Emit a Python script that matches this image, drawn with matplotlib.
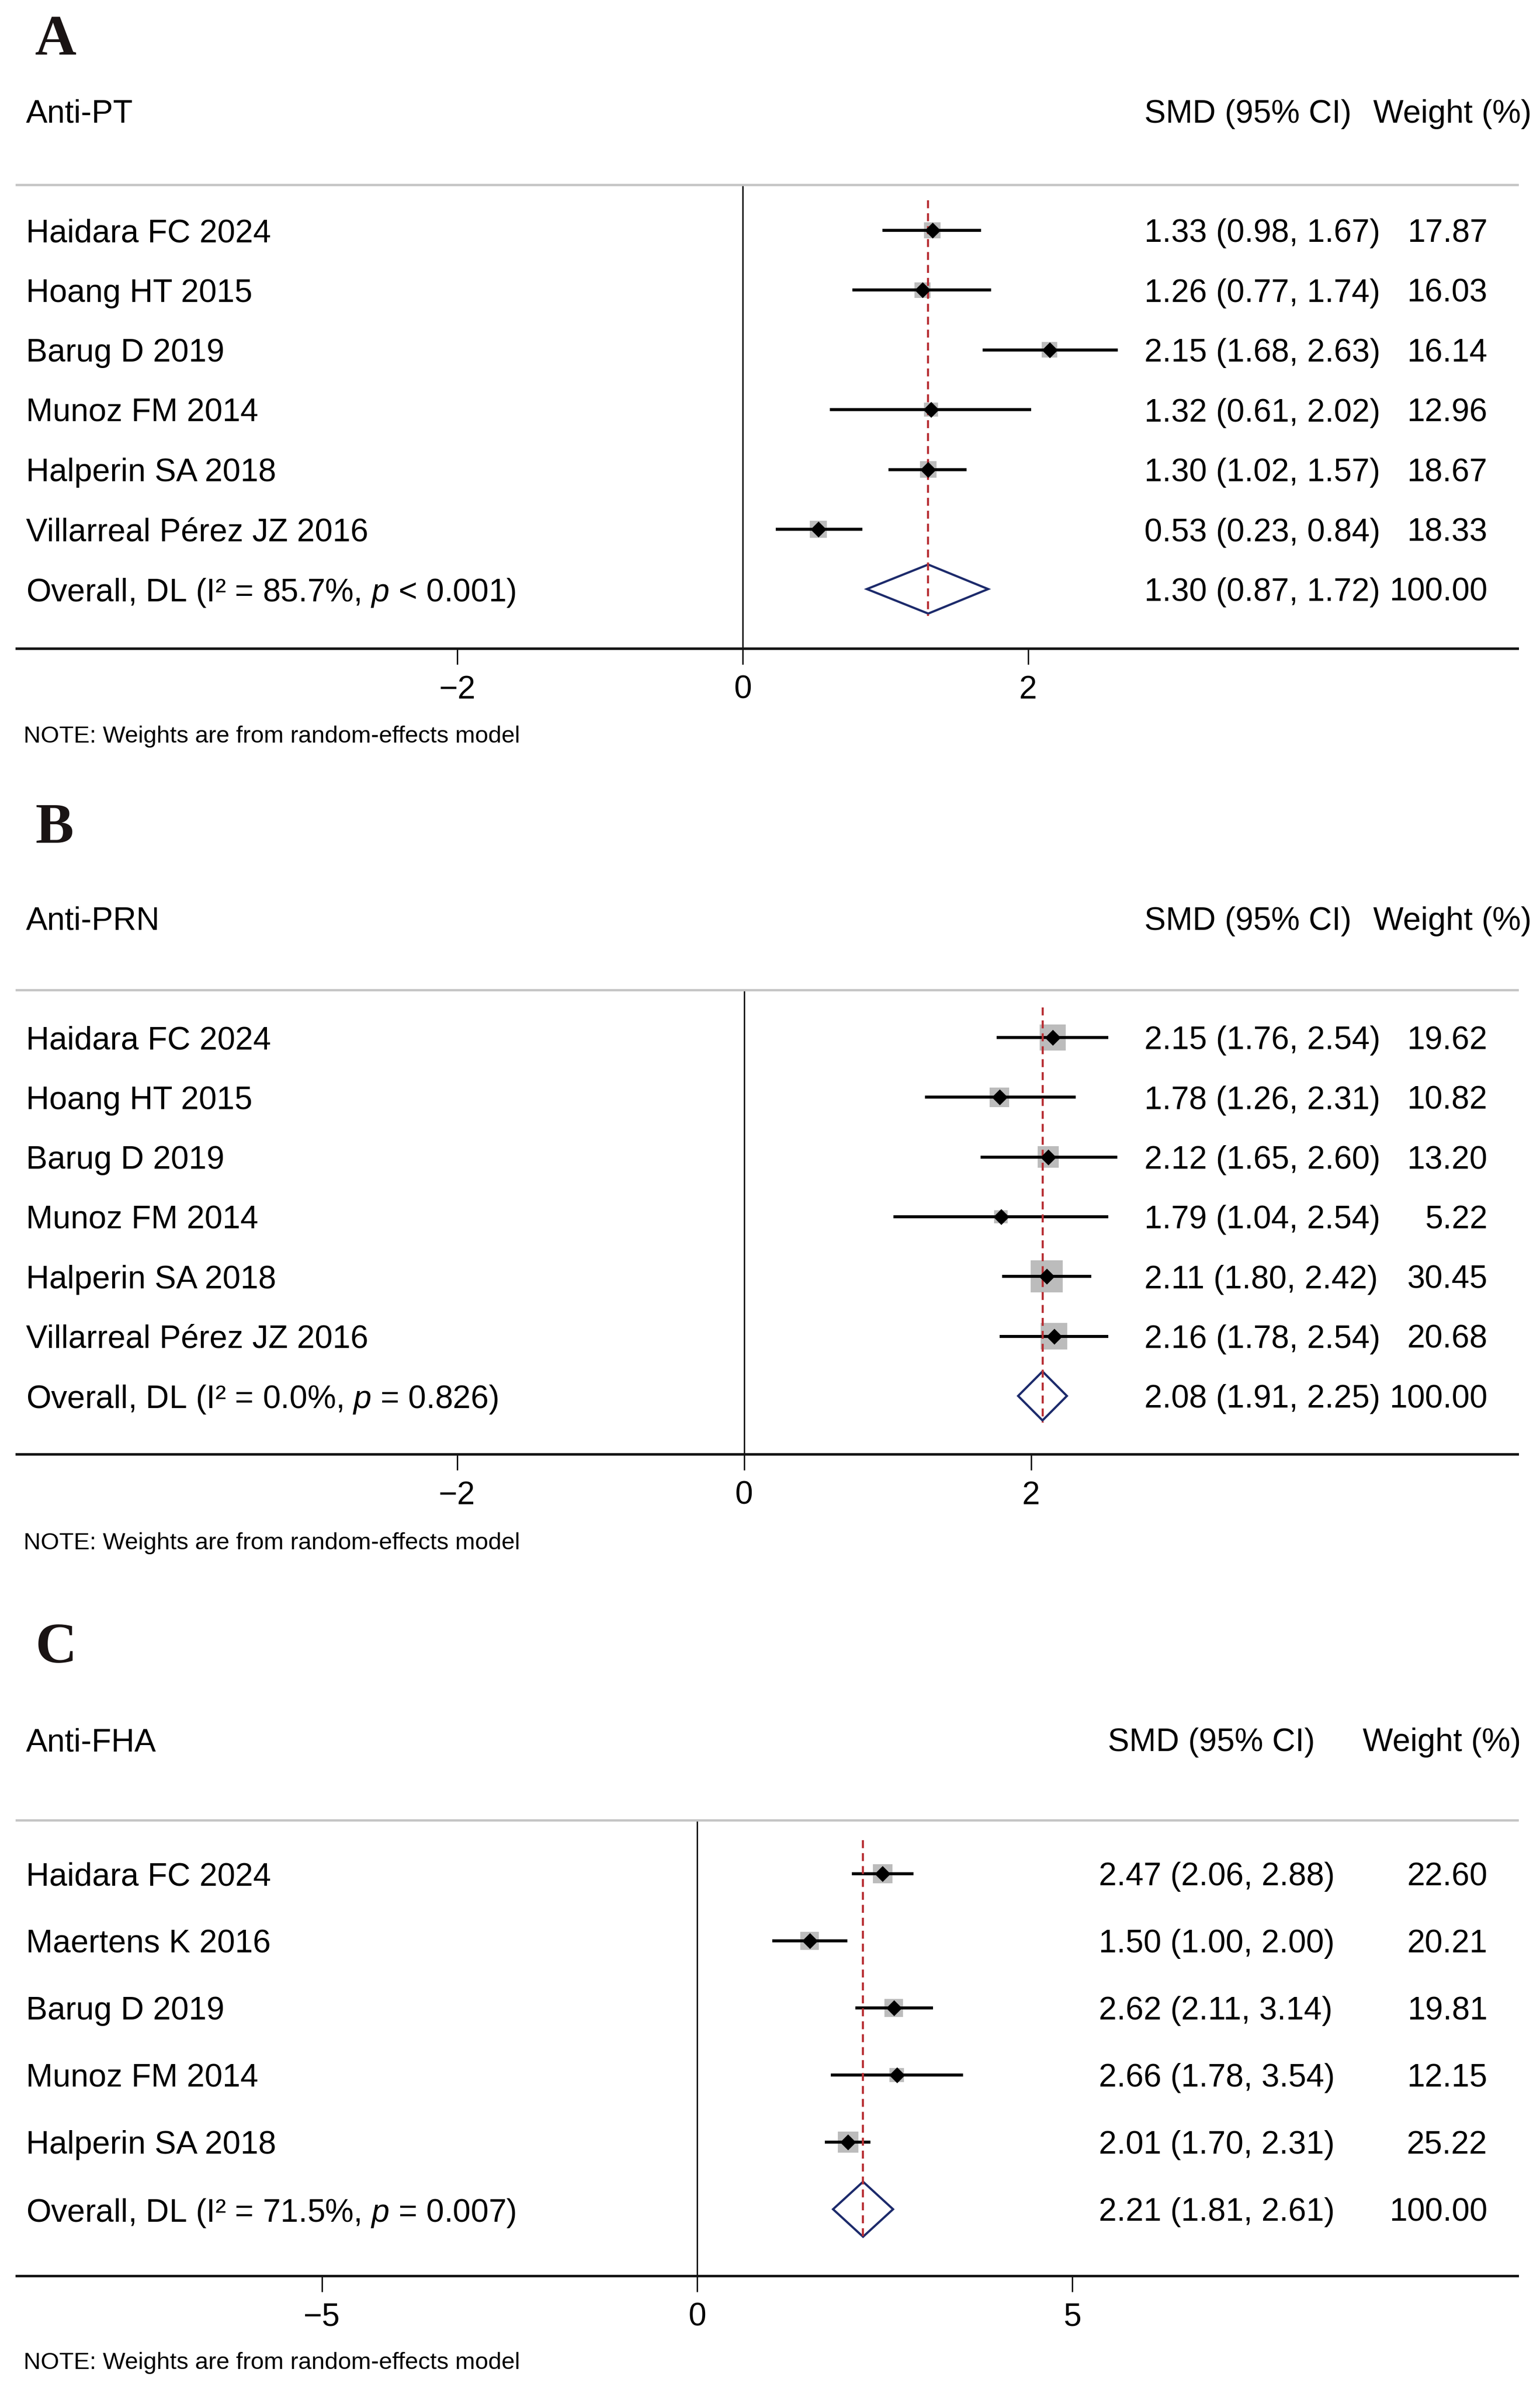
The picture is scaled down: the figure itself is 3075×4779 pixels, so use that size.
import matplotlib
matplotlib.use("Agg")
import matplotlib.pyplot as plt
import matplotlib.transforms as mtransforms

plt.rcParams['font.family'] = ['Liberation Sans', 'DejaVu Sans']
plt.rcParams['mathtext.fontset'] = 'custom'
plt.rcParams['mathtext.rm'] = 'Liberation Sans'
plt.rcParams['mathtext.it'] = 'Liberation Sans:italic'

# ---- data ----
# A: Anti-PT
studies_a = ["Haidara FC 2024", "Hoang HT 2015", "Barug D 2019", "Munoz FM 2014",
             "Halperin SA 2018", "Villarreal Pérez JZ 2016"]
smd_a = [1.33, 1.26, 2.15, 1.32, 1.30, 0.53]
lo_a = [0.98, 0.77, 1.68, 0.61, 1.02, 0.23]
hi_a = [1.67, 1.74, 2.63, 2.02, 1.57, 0.84]
wt_a = [17.87, 16.03, 16.14, 12.96, 18.67, 18.33]
overall_a = [1.30, 0.87, 1.72]
i2_a = "85.7"
p_a = "< 0.001"

# B: Anti-PRN
studies_b = ["Haidara FC 2024", "Hoang HT 2015", "Barug D 2019", "Munoz FM 2014",
             "Halperin SA 2018", "Villarreal Pérez JZ 2016"]
smd_b = [2.15, 1.78, 2.12, 1.79, 2.11, 2.16]
lo_b = [1.76, 1.26, 1.65, 1.04, 1.80, 1.78]
hi_b = [2.54, 2.31, 2.60, 2.54, 2.42, 2.54]
wt_b = [19.62, 10.82, 13.20, 5.22, 30.45, 20.68]
overall_b = [2.08, 1.91, 2.25]
i2_b = "0.0"
p_b = "= 0.826"

# C: Anti-FHA
studies_c = ["Haidara FC 2024", "Maertens K 2016", "Barug D 2019", "Munoz FM 2014",
             "Halperin SA 2018"]
smd_c = [2.47, 1.50, 2.62, 2.66, 2.01]
lo_c = [2.06, 1.00, 2.11, 1.78, 1.70]
hi_c = [2.88, 2.00, 3.14, 3.54, 2.31]
wt_c = [22.60, 20.21, 19.81, 12.15, 25.22]
overall_c = [2.21, 1.81, 2.61]
i2_c = "71.5"
p_c = "= 0.007"

W, H = 3075, 4779
DPI = 300
fig = plt.figure(figsize=(W / DPI, H / DPI), dpi=DPI)


def fx(px):
    return px / W


def fy(py):
    return 1 - py / H


NAVY = "#1c2a6b"
RED = "#b83035"
BOX = "#bcbcbc"
FS = 15.4


def panel(letter, title, studies, smd, lo, hi, wt, overall, i2, p,
          letter_y, sep_px, axis_px, row1_px, row_step, note_px,
          xlim, ticks, ci_x, smd_hdr_x, wt_hdr_x, box_k):
    n = len(studies) + 1
    ax = fig.add_axes([fx(33), fy(axis_px), (3030 - 33) / W, (axis_px - sep_px) / H])
    top = (sep_px - row1_px) / row_step + 1
    bot = (axis_px - row1_px) / row_step + 1
    ax.set_ylim(bot, top)
    ax.set_xlim(*xlim)
    ax.set_yticks([])
    ax.set_xticks(ticks)
    for s in ["left", "right"]:
        ax.spines[s].set_visible(False)
    ax.spines["top"].set_color("#c4c4c4")
    ax.spines["top"].set_linewidth(1.1)
    ax.spines["bottom"].set_color("#151515")
    ax.spines["bottom"].set_linewidth(1.2)
    ax.tick_params(axis="x", length=7.7, width=0.65, labelsize=FS, pad=5)
    ax.patch.set_alpha(0)

    ax.axvline(0, color="black", lw=0.65, zorder=1)

    rows = list(range(1, n))
    # gray weight boxes
    sizes = [(box_k * 0.24) ** 2 * w for w in wt]
    ax.scatter(smd, rows, s=sizes, marker="s", color=BOX, linewidths=0, zorder=2)
    # confidence intervals
    ax.hlines(rows, lo, hi, color="black", lw=1.45, zorder=3)
    # overall diamond
    est, olo, ohi = overall
    ax.fill([olo, est, ohi, est], [n, n - 0.41, n, n + 0.41], facecolor="white",
            edgecolor=NAVY, lw=1.05, zorder=3)
    # overall effect line
    ax.plot([est, est], [0.5, n + 0.45], color=RED, lw=1.0, ls=(0, (3.8, 2.4)), zorder=4)
    # point estimates
    ax.plot(smd, rows, ls="none", marker=(4, 0, 0), ms=6.2, color="black", zorder=5)

    tr = mtransforms.blended_transform_factory(ax.transAxes, ax.transData)
    kw = dict(transform=tr, fontsize=FS, va="center_baseline", clip_on=False)
    ax.text(0.0063, -1.0, title, ha="left", **kw)
    ax.text(smd_hdr_x, -1.0, "SMD (95% CI)", ha="left", **kw)
    ax.text(wt_hdr_x, -1.0, "Weight (%)", ha="left", **kw)
    for r, name, e, l, h, w in zip(rows, studies, smd, lo, hi, wt):
        ax.text(0.0063, r, name, ha="left", **kw)
        ax.text(ci_x, r, f"{e:.2f} ({l:.2f}, {h:.2f})", ha="left", **kw)
        ax.text(0.980, r, f"{w:.2f}", ha="right", **kw)
    ax.text(0.0063, n, f"Overall, DL (I² = {i2}%, $p$ {p})", ha="left", **kw)
    ax.text(ci_x, n, f"{est:.2f} ({olo:.2f}, {ohi:.2f})", ha="left", **kw)
    ax.text(0.980, n, "100.00", ha="right", **kw)

    fig.text(fx(70), fy(letter_y), letter, family="Liberation Serif", weight="bold",
             fontsize=27.5, color="#1a1414", ha="left", va="baseline")
    fig.text(fx(47), fy(note_px), "NOTE: Weights are from random-effects model",
             fontsize=11.4, ha="left", va="center_baseline")


panel("A", "Anti-PT", studies_a, smd_a, lo_a, hi_a, wt_a, overall_a, i2_a, p_a,
      letter_y=109, sep_px=369, axis_px=1295, row1_px=460, row_step=119.4, note_px=1466,
      xlim=(-5.09, 5.43), ticks=[-2, 0, 2], ci_x=0.7515, smd_hdr_x=0.7515,
      wt_hdr_x=0.904, box_k=7.8)

panel("B", "Anti-PRN", studies_b, smd_b, lo_b, hi_b, wt_b, overall_b, i2_b, p_b,
      letter_y=1683, sep_px=1977, axis_px=2904, row1_px=2072, row_step=119.3, note_px=3077,
      xlim=(-5.07, 5.39), ticks=[-2, 0, 2], ci_x=0.7515, smd_hdr_x=0.7515,
      wt_hdr_x=0.904, box_k=11.7)

panel("C", "Anti-FHA", studies_c, smd_c, lo_c, hi_c, wt_c, overall_c, i2_c, p_c,
      letter_y=3320, sep_px=3635, axis_px=4545, row1_px=3742, row_step=134, note_px=4714,
      xlim=(-9.07, 10.93), ticks=[-5, 0, 5], ci_x=0.721, smd_hdr_x=0.727,
      wt_hdr_x=0.897, box_k=8.2)

fig.savefig("out.png", dpi=DPI, facecolor="white")
